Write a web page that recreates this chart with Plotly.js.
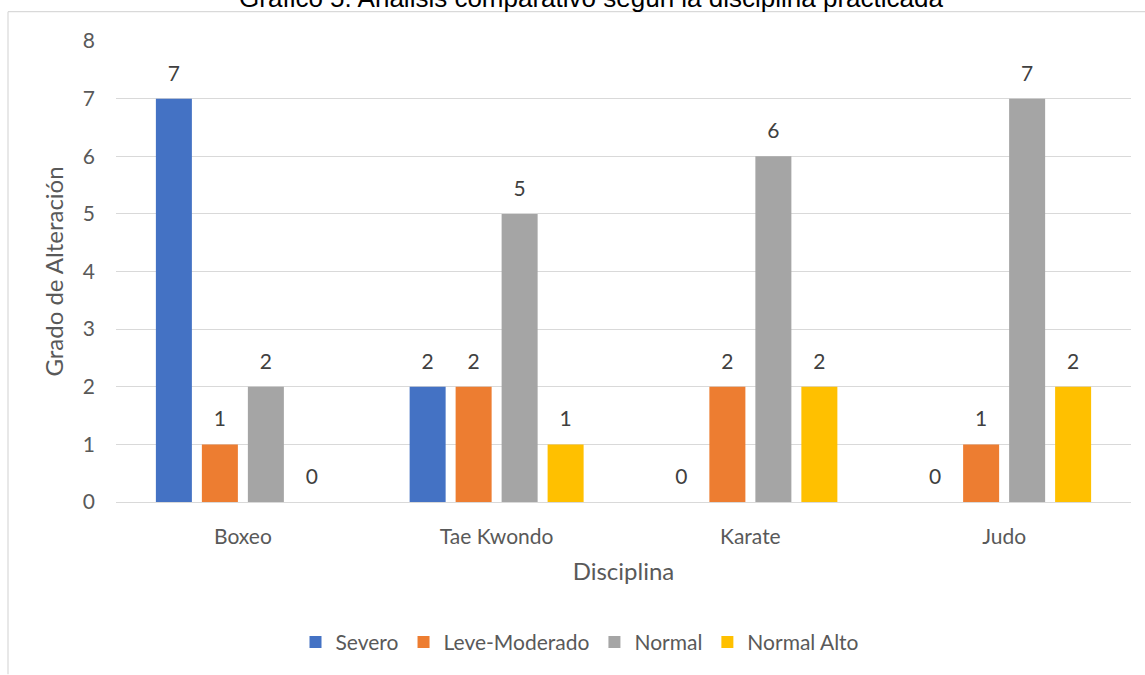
<!DOCTYPE html>
<html>
<head>
<meta charset="utf-8">
<script src="https://cdn.plot.ly/plotly-3.0.1.min.js"></script>
<style>html,body{margin:0;padding:0;background:#fff;}#chart{width:1145px;height:675px;}</style>
</head>
<body>
<div id="chart"></div>
<script>
// ---- data ----
const categories = ['Boxeo', 'Tae Kwondo', 'Karate', 'Judo'];
const severo = [7, 2, 0, 0];
const leveModerado = [1, 2, 2, 1];
const normal = [2, 5, 6, 7];
const normalAlto = [0, 1, 2, 2];
const seriesNames = ['Severo', 'Leve-Moderado', 'Normal', 'Normal Alto'];
const yTickVals = [0, 1, 2, 3, 4, 5, 6, 7, 8];
const titleText = 'Gráfico 5. Análisis comparativo según la disciplina practicada';
const xTitle = 'Disciplina';
const yTitle = 'Grado de Alteración';

// ---- style ----
const colors = ['#4472C4', '#ED7D31', '#A5A5A5', '#FFC000'];
const FONT = 'Lato, Carlito, Calibri, "Open Sans", sans-serif';
const W = 1145, H = 675;
const M = {l: 116, r: 14, t: 41, b: 171};
const pw = W - M.l - M.r, ph = H - M.t - M.b;
const px = v => (v - M.l) / pw;
const py = v => (H - M.b - v) / ph;

const seriesValues = [severo, leveModerado, normal, normalAlto];
const traces = seriesValues.map((vals, i) => ({
  type: 'bar',
  name: seriesNames[i],
  x: categories,
  y: vals,
  marker: {color: colors[i], line: {width: 0}},
  texttemplate: "<span style='font-size:21px'>%{y}</span><br><span style='color:rgba(0,0,0,0)'>.</span>",
  textposition: 'outside',
  cliponaxis: false,
  constraintext: 'none',
  textfont: {family: FONT, size: 10, color: '#404040'},
  hoverinfo: 'skip'
}));

const borderColor = '#d9d9d9';
const layout = {
  width: W, height: H,
  margin: M,
  paper_bgcolor: '#fff',
  plot_bgcolor: '#fff',
  barmode: 'group',
  bargap: 0.275,
  bargroupgap: 0.217,
  font: {family: FONT, color: '#595959', size: 21},
  title: {
    text: titleText,
    font: {family: '"Liberation Sans", Arial, sans-serif', size: 26, color: '#000'},
    xref: 'container', yref: 'container',
    x: 591 / W, xanchor: 'center',
    y: 1 - 7 / H, yanchor: 'bottom'
  },
  xaxis: {
    type: 'category',
    showgrid: false,
    showline: false,
    ticks: '',
    ticklabelstandoff: 20,
    tickfont: {family: FONT, size: 21, color: '#595959'},
    title: {text: xTitle, font: {family: FONT, size: 24, color: '#595959'}, standoff: 16},
    fixedrange: true
  },
  yaxis: {
    range: [0, 8],
    tickvals: yTickVals,
    showgrid: true,
    gridcolor: '#d9d9d9',
    gridwidth: 1,
    zeroline: true,
    zerolinecolor: '#d9d9d9',
    zerolinewidth: 1,
    showline: false,
    ticks: '',
    ticklabelstandoff: 20,
    tickfont: {family: FONT, size: 21, color: '#595959'},
    title: {text: yTitle, font: {family: FONT, size: 24, color: '#595959'}, standoff: 12},
    fixedrange: true
  },
  showlegend: true,
  legend: {
    orientation: 'h',
    x: px(580), xanchor: 'center',
    y: py(645), yanchor: 'middle',
    font: {family: FONT, size: 21, color: '#595959'},
    bgcolor: 'rgba(0,0,0,0)',
    itemclick: false, itemdoubleclick: false
  },
  shapes: [
    {type: 'line', xref: 'paper', yref: 'paper', x0: px(8), x1: px(W + 2), y0: py(11.5), y1: py(11.5),
     line: {color: borderColor, width: 1.2}, layer: 'below'},
    {type: 'line', xref: 'paper', yref: 'paper', x0: px(8), x1: px(8), y0: py(11.5), y1: py(H + 2),
     line: {color: borderColor, width: 1.2}, layer: 'below'}
  ],
  hovermode: false
};

Plotly.newPlot('chart', traces, layout, {displayModeBar: false, staticPlot: true});
</script>
</body>
</html>
